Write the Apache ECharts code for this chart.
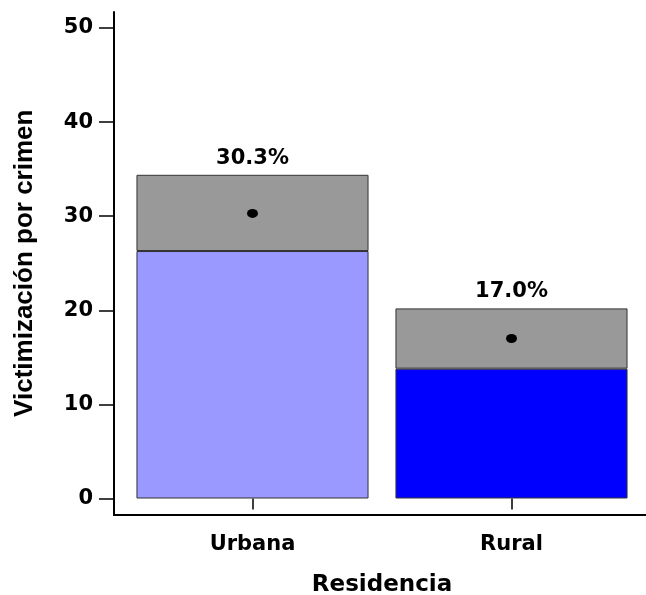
<!DOCTYPE html>
<html>
<head>
<meta charset="utf-8">
<script src="https://cdn.jsdelivr.net/npm/echarts@6/dist/echarts.min.js"></script>
<style>html,body{margin:0;padding:0;background:#fff;}#chart{width:646px;height:595px;}</style>
</head>
<body>
<div id="chart"></div>
<script>
// ---- data ----
const categories = ['Urbana', 'Rural'];
const meanValues = [30.3, 17.0];
const ciLower = [26.3, 13.8];
const ciUpper = [34.4, 20.2];
const barColors = ['#9999ff', '#0000ff'];
const yTicks = [0, 10, 20, 30, 40, 50];
const yAxisTitle = 'Victimización por crimen';
const xAxisTitle = 'Residencia';

const FONT = 'DejaVu Sans';
const chart = echarts.init(document.getElementById('chart'), null, {renderer: 'canvas'});

const lowerData = ciLower.map((v, i) => ({value: v, itemStyle: {color: barColors[i]}}));
const spanData = ciUpper.map((u, i) => +(u - ciLower[i]).toFixed(2));

chart.setOption({
  backgroundColor: '#ffffff',
  animation: false,
  grid: [
    {left: 123, right: 5, top: 28, bottom: 96.5, containLabel: false, outerBoundsMode: 'none'},
    {left: 114, right: 0, top: 12, bottom: 80, containLabel: false, outerBoundsMode: 'none'}
  ],
  xAxis: [
    {
      type: 'category', gridIndex: 0, data: categories, offset: 17,
      axisLine: {show: false},
      axisTick: {show: true, alignWithLabel: true, length: 11, lineStyle: {color: '#000', width: 1.5}},
      axisLabel: {margin: 19, color: '#000', fontFamily: FONT, fontWeight: 'bold', fontSize: 21},
      name: xAxisTitle, nameLocation: 'middle', nameGap: 58,
      nameTextStyle: {color: '#000', fontFamily: FONT, fontWeight: 'bold', fontSize: 23}
    },
    {
      type: 'value', gridIndex: 1, min: 0, max: 1,
      axisLine: {show: true, onZero: false, lineStyle: {color: '#000', width: 2}},
      axisTick: {show: false}, axisLabel: {show: false}, splitLine: {show: false}
    }
  ],
  yAxis: [
    {
      type: 'value', gridIndex: 0, min: yTicks[0], max: yTicks[yTicks.length - 1], interval: 10, offset: 9,
      axisLine: {show: false},
      axisTick: {show: true, length: 15, lineStyle: {color: '#000', width: 1.5}},
      axisLabel: {margin: 21, color: '#000', fontFamily: FONT, fontWeight: 'bold', fontSize: 21},
      splitLine: {show: false},
      name: yAxisTitle, nameLocation: 'middle', nameGap: 76, nameRotate: 90,
      nameTextStyle: {color: '#000', fontFamily: 'Liberation Sans', fontWeight: 'bold', fontSize: 26}
    },
    {
      type: 'value', gridIndex: 1, min: 0, max: 1,
      axisLine: {show: true, onZero: false, lineStyle: {color: '#000', width: 2}},
      axisTick: {show: false}, axisLabel: {show: false}, splitLine: {show: false}
    }
  ],
  series: [
    {
      type: 'bar', name: 'lower', stack: 'ci', xAxisIndex: 0, yAxisIndex: 0,
      barWidth: '89.6%', data: lowerData,
      itemStyle: {borderColor: '#333', borderWidth: 1}
    },
    {
      type: 'bar', name: 'ci', stack: 'ci', xAxisIndex: 0, yAxisIndex: 0,
      barWidth: '89.6%', data: spanData,
      itemStyle: {color: '#999999', borderColor: '#333', borderWidth: 1},
      label: {
        show: true, position: 'top', distance: 6,
        formatter: p => meanValues[p.dataIndex].toFixed(1) + '%',
        color: '#000', fontFamily: FONT, fontWeight: 'bold', fontSize: 21
      }
    },
    {
      type: 'scatter', name: 'mean', xAxisIndex: 0, yAxisIndex: 0,
      data: meanValues, symbol: 'circle', symbolSize: [11, 9],
      itemStyle: {color: '#000', opacity: 1}, z: 5
    }
  ]
});
</script>
</body>
</html>
